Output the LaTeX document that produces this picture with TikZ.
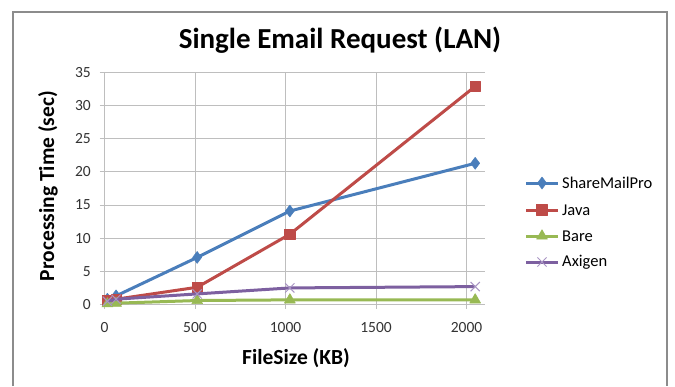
\documentclass[tikz,border=0pt]{standalone}
\usepackage{fontspec}
\setmainfont{Carlito}
\usetikzlibrary{plotmarks}
\definecolor{smpc}{HTML}{4A7EBB}
\definecolor{javac}{HTML}{BE4B48}
\definecolor{barec}{HTML}{98B954}
\definecolor{axic}{HTML}{7D60A0}
\definecolor{axim}{HTML}{A995C4}
\definecolor{gridc}{HTML}{BEBEBE}
\definecolor{framec}{HTML}{8C8C8C}
\tikzset{
  gridline/.style={draw=gridc, line width=0.9pt},
  ticklab/.style={font=\fontsize{15.5}{17}\selectfont, text=black!80, inner sep=0pt},
  legtext/.style={font=\fontsize{16.5}{18}\selectfont, anchor=west, inner sep=0pt},
  serie/.style={line width=3pt, line join=round},
  smpstyle/.style={serie, draw=smpc, mark=diamond*, mark size=6pt, mark options={fill=smpc, draw=smpc, line width=0.5pt}},
  javastyle/.style={serie, draw=javac, mark=square*, mark size=5.3pt, mark options={fill=javac, draw=javac, line width=0.5pt}},
  barestyle/.style={serie, draw=barec, mark=triangle*, mark size=6.3pt, mark options={fill=barec, draw=barec, line width=0.5pt}},
  axistyle/.style={serie, draw=axic, mark=x, mark size=6.5pt, mark options={draw=axim, line width=1pt}},
}
\begin{document}
\begin{tikzpicture}[x=1pt,y=-1pt]
\useasboundingbox[fill=white] (0,0) rectangle (675,386);
% frame
\draw[framec, line width=1.5pt] (13,386) -- (13,12) -- (667,12) -- (667,386);
% title
\node[font=\bfseries\fontsize{29}{31}\selectfont, inner sep=0pt] (title) at (340,40) {Single Email Request (LAN)};
% plot area
\begin{scope}[shift={(104.5,304.5)}, x=0.181pt, y=6.63pt]
  \foreach \v in {5,10,...,35} {
    \draw[gridline] (-25,\v) -- (2100,\v);
    \node[ticklab, anchor=east] (yl\v) at (-75,\v) {\v};
  }
  \node[ticklab, anchor=east] (yl0) at (-75,0) {0};
  \foreach \u in {500,1000,1500,2000} {
    \draw[gridline] (\u,35) -- (\u,-0.7);
    \node[ticklab] (xl\u) at (\u,-3.5) {\u};
  }
  \node[ticklab] (xl0) at (0,-3.5) {0};
  \draw[gridline] (-25,0) -- (2100,0);
  \draw[gridline] (0,35) -- (0,-0.7);
  % series
  \draw[smpstyle] plot coordinates {(16,0.8) (64,1.3) (512,7.1) (1024,14.1) (2048,21.3)};
  \draw[javastyle] plot coordinates {(16,0.6) (64,0.8) (512,2.6) (1024,10.6) (2048,32.9)};
  \draw[barestyle] plot coordinates {(16,0.1) (64,0.2) (512,0.6) (1024,0.7) (2048,0.7)};
  \draw[axistyle] plot coordinates {(16,0.5) (64,0.8) (512,1.6) (1024,2.5) (2048,2.7)};
\end{scope}
% axis titles
\node[font=\bfseries\fontsize{21.5}{23}\selectfont, rotate=90, inner sep=0pt] (ytitle) at (48,186) {Processing Time (sec)};
\node[font=\bfseries\fontsize{21.5}{23}\selectfont, inner sep=0pt] (xtitle) at (296,358) {FileSize (KB)};
% legend
\draw[smpc, line width=3pt] (526,183) -- (558,183);
\draw[smpstyle] plot[only marks] coordinates {(542,183)};
\node[legtext] (l1) at (562,183) {ShareMailPro};
\draw[javac, line width=3pt] (526,210) -- (558,210);
\draw[javastyle] plot[only marks] coordinates {(542,210)};
\node[legtext] (l2) at (562,210) {Java};
\draw[barec, line width=3pt] (526,236) -- (558,236);
\draw[barestyle] plot[only marks] coordinates {(542,236)};
\node[legtext] (l3) at (562,236) {Bare};
\draw[axic, line width=3pt] (526,262) -- (558,262);
\draw[axistyle] plot[only marks] coordinates {(542,262)};
\node[legtext] (l4) at (562,262) {Axigen};
\end{tikzpicture}
\end{document}
